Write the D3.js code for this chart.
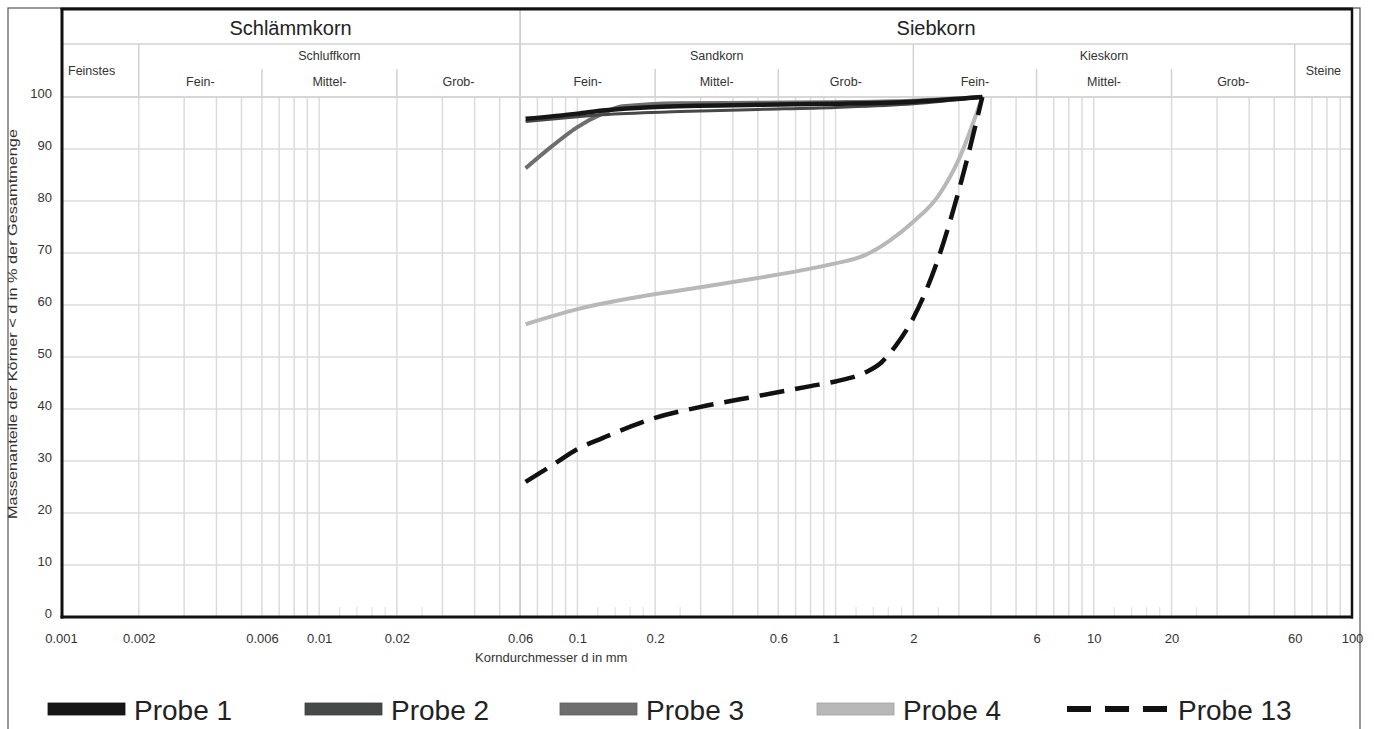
<!DOCTYPE html>
<html>
<head>
<meta charset="utf-8">
<script src="https://cdn.jsdelivr.net/npm/d3@7"></script>
<style>
  html, body { margin: 0; padding: 0; background: #fff; }
  svg { display: block; font-family: "Liberation Sans", Arial, sans-serif; }
</style>
</head>
<body>
<svg id="chart" width="1374" height="729"></svg>
<script>
// ---------- DATA ----------
const yTicks = [0, 10, 20, 30, 40, 50, 60, 70, 80, 90, 100];
const xTickLabels = [0.001, 0.002, 0.006, 0.01, 0.02, 0.06, 0.1, 0.2, 0.6, 1, 2, 6, 10, 20, 60, 100];
const xGridValues = [0.002,0.003,0.004,0.005,0.006,0.007,0.008,0.009,
  0.01,0.02,0.03,0.04,0.05,0.06,0.07,0.08,0.09,
  0.1,0.2,0.3,0.4,0.5,0.6,0.7,0.8,0.9,
  1,2,3,4,5,6,7,8,9,
  10,20,30,40,50,60,70,80,90];
const xMinorTicks = [0.012,0.014,0.016,0.018,0.025, 0.12,0.14,0.16,0.18,0.25, 1.2,1.4,1.6,1.8,2.5, 12,14,16,18,25];

const headerTop = [
  {label: "Schlämmkorn", from: 0.001, to: 0.06},
  {label: "Siebkorn", from: 0.06, to: 100}
];
const headerMid = [
  {label: "Feinstes", from: 0.001, to: 0.002, full: true},
  {label: "Schluffkorn", from: 0.002, to: 0.06},
  {label: "Sandkorn", from: 0.06, to: 2},
  {label: "Kieskorn", from: 2, to: 60},
  {label: "Steine", from: 60, to: 100, full: true}
];
const headerSub = [
  {label: "Fein-", from: 0.002, to: 0.006},
  {label: "Mittel-", from: 0.006, to: 0.02},
  {label: "Grob-", from: 0.02, to: 0.06},
  {label: "Fein-", from: 0.06, to: 0.2},
  {label: "Mittel-", from: 0.2, to: 0.6},
  {label: "Grob-", from: 0.6, to: 2},
  {label: "Fein-", from: 2, to: 6},
  {label: "Mittel-", from: 6, to: 20},
  {label: "Grob-", from: 20, to: 60}
];

// series: [grain size mm, % passing]
const probe1 = [[0.063,95.8],[0.1,96.8],[0.125,97.4],[0.2,98.1],[0.5,98.5],[1,98.7],[2,99.1],[3.7,100]];
const probe2 = [[0.063,95.3],[0.1,96.2],[0.125,96.6],[0.25,97.2],[0.5,97.6],[1,98.0],[2,98.7],[3.7,100]];
const probe3 = [[0.063,86.3],[0.08,90.6],[0.1,94.2],[0.125,96.8],[0.15,98.2],[0.25,98.8],[0.5,98.9],[1,99.0],[2,99.3],[3.7,100]];
const probe4 = [[0.063,56.3],[0.1,59.2],[0.2,62.1],[0.3,63.4],[0.5,65.2],[0.8,67.0],[1,68.0],[1.3,69.6],[1.6,72.2],[2,76.0],[2.5,81.0],[3,88.0],[3.7,100]];
const probe13 = [[0.063,26.0],[0.08,29.2],[0.1,32.3],[0.125,34.4],[0.2,38.3],[0.3,40.4],[0.5,42.5],[0.8,44.4],[1,45.3],[1.3,47.0],[1.5,48.9],[1.7,52.0],[2,57.5],[2.5,69.0],[3,82.0],[3.7,100]];

const seriesNames = ["Probe 1", "Probe 2", "Probe 3", "Probe 4", "Probe 13"];
const seriesData = [probe1, probe2, probe3, probe4, probe13];

// ---------- STYLE ----------
const colors = ["#161616", "#454a48", "#6e6e6e", "#b8b8b8", "#111111"];
const widths = [4.5, 3, 4, 4, 4.5];
const dashes = [null, null, null, null, "25,11"];

// ---------- LAYOUT ----------
const svg = d3.select("#chart");
const L = 62, R = 1352, T = 9, B = 617, plotTop = 97;
const x = d3.scaleLog().domain([0.001, 100]).range([61, R]);
const y = d3.scaleLinear().domain([0, 100]).range([B, plotTop]);

// outer page frame
svg.append("rect").attr("x", 8).attr("y", 8).attr("width", 1352).attr("height", 740)
  .attr("fill", "none").attr("stroke", "#555").attr("stroke-width", 1.2);

const gridColor = "#dcdcdc";

// horizontal grid
svg.append("g").selectAll("line").data(yTicks).join("line")
  .attr("x1", L).attr("x2", R).attr("y1", d => y(d)).attr("y2", d => y(d))
  .attr("stroke", gridColor).attr("stroke-width", 1.5);

// vertical grid
svg.append("g").selectAll("line").data(xGridValues).join("line")
  .attr("x1", d => x(d)).attr("x2", d => x(d)).attr("y1", plotTop).attr("y2", B)
  .attr("stroke", gridColor).attr("stroke-width", 1.5);

// minor ticks
svg.append("g").selectAll("line").data(xMinorTicks).join("line")
  .attr("x1", d => x(d)).attr("x2", d => x(d)).attr("y1", B - 10).attr("y2", B)
  .attr("stroke", "#e2e2e2").attr("stroke-width", 1.2);

// ---------- HEADER ----------
const hdr = svg.append("g");
const hColor = "#d2d2d2";
hdr.append("line").attr("x1", L).attr("x2", R).attr("y1", 44).attr("y2", 44).attr("stroke", hColor).attr("stroke-width", 1.5);
hdr.append("line").attr("x1", L).attr("x2", R).attr("y1", plotTop).attr("y2", plotTop).attr("stroke", hColor).attr("stroke-width", 1.5);
// top-level divider
hdr.selectAll(".d1").data(headerTop.slice(1)).join("line")
  .attr("x1", d => x(d.from)).attr("x2", d => x(d.from)).attr("y1", T).attr("y2", B)
  .attr("stroke", "#cfcfcf").attr("stroke-width", 1.8);
// mid-level dividers
hdr.selectAll(".d2").data(headerMid.slice(1)).join("line")
  .attr("x1", d => x(d.from)).attr("x2", d => x(d.from)).attr("y1", 44).attr("y2", plotTop)
  .attr("stroke", hColor).attr("stroke-width", 1.5);
// sub dividers
hdr.selectAll(".d3").data(headerSub.filter((d, i) => i % 3 !== 0)).join("line")
  .attr("x1", d => x(d.from)).attr("x2", d => x(d.from)).attr("y1", 69).attr("y2", plotTop)
  .attr("stroke", hColor).attr("stroke-width", 1.5);

hdr.selectAll(".t1").data(headerTop).join("text")
  .attr("x", d => (x(d.from) + x(d.to)) / 2).attr("y", 35)
  .attr("text-anchor", "middle").attr("font-size", 20).attr("fill", "#222")
  .text(d => d.label);
hdr.selectAll(".t2").data(headerMid).join("text")
  .attr("x", d => d.full ? (d.label === "Feinstes" ? 68 : (x(d.from) + x(d.to)) / 2) : (x(d.from) + x(d.to)) / 2)
  .attr("y", d => d.full ? 75 : 60)
  .attr("text-anchor", d => d.label === "Feinstes" ? "start" : "middle")
  .attr("font-size", 12.5).attr("fill", "#333")
  .text(d => d.label);
hdr.selectAll(".t3").data(headerSub).join("text")
  .attr("x", d => (x(d.from) + x(d.to)) / 2).attr("y", 86)
  .attr("text-anchor", "middle").attr("font-size", 12.5).attr("fill", "#333")
  .text(d => d.label);

// ---------- AXES ----------
const yAxis = svg.append("g").attr("transform", `translate(${L},0)`)
  .call(d3.axisLeft(y).tickValues(yTicks).tickSize(0).tickPadding(10));
yAxis.select(".domain").remove();
yAxis.selectAll("text").attr("dy", "0").attr("font-size", 13).attr("fill", "#333")
  .attr("font-family", "Liberation Sans, Arial, sans-serif");

const xAxis = svg.append("g").attr("transform", `translate(0,${B})`)
  .call(d3.axisBottom(x).tickValues(xTickLabels).tickSize(0).tickFormat(d => String(d)));
xAxis.select(".domain").remove();
xAxis.selectAll("text").attr("y", 26).attr("dy", "0").attr("font-size", 13).attr("fill", "#333")
  .attr("font-family", "Liberation Sans, Arial, sans-serif");

svg.append("text").attr("x", 475).attr("y", 662).attr("font-size", 13).attr("fill", "#333")
  .text("Korndurchmesser d in mm");

svg.append("text")
  .attr("transform", "translate(17,324) rotate(-90)")
  .attr("text-anchor", "middle").attr("font-size", 12.5).attr("fill", "#333")
  .attr("textLength", 390).attr("lengthAdjust", "spacingAndGlyphs")
  .text("Massenanteile der Körner < d in % der Gesamtmenge");

// ---------- SERIES ----------
const line = d3.line().x(d => x(d[0])).y(d => y(d[1])).curve(d3.curveMonotoneX);
const order = [3, 2, 1, 0, 4];
svg.append("g").selectAll("path").data(order).join("path")
  .attr("d", i => line(seriesData[i]))
  .attr("fill", "none")
  .attr("stroke", i => colors[i])
  .attr("stroke-width", i => widths[i])
  .attr("stroke-dasharray", i => dashes[i])
  .attr("stroke-linejoin", "round");

// ---------- FRAME ----------
const frame = svg.append("g").attr("stroke", "#111").attr("fill", "none");
frame.append("line").attr("x1", L).attr("x2", L).attr("y1", T - 1).attr("y2", B + 1.5).attr("stroke-width", 3);
frame.append("line").attr("x1", L - 1.5).attr("x2", R + 1).attr("y1", T).attr("y2", T).attr("stroke-width", 3);
frame.append("line").attr("x1", R).attr("x2", R).attr("y1", T - 1).attr("y2", B + 1.5).attr("stroke-width", 2.5);
frame.append("line").attr("x1", L - 1.5).attr("x2", R + 1).attr("y1", B).attr("y2", B).attr("stroke-width", 3);

// ---------- LEGEND ----------
const legendX = [48, 305, 560, 817, 1067];
const lg = svg.append("g");
seriesNames.forEach((name, i) => {
  if (dashes[i]) {
    lg.append("line").attr("x1", legendX[i]).attr("x2", legendX[i] + 100).attr("y1", 709).attr("y2", 709)
      .attr("stroke", colors[i]).attr("stroke-width", 6).attr("stroke-dasharray", "24,14");
    lg.append("text").attr("x", legendX[i] + 111).attr("y", 720).attr("font-size", 28).attr("fill", "#222").text(name);
  } else {
    lg.append("rect").attr("x", legendX[i]).attr("y", 703).attr("width", 77).attr("height", 12)
      .attr("fill", colors[i]).attr("stroke", d3.color(colors[i]).darker(0.4)).attr("stroke-width", 0.8);
    lg.append("text").attr("x", legendX[i] + 86).attr("y", 720).attr("font-size", 28).attr("fill", "#222").text(name);
  }
});
</script>
</body>
</html>
